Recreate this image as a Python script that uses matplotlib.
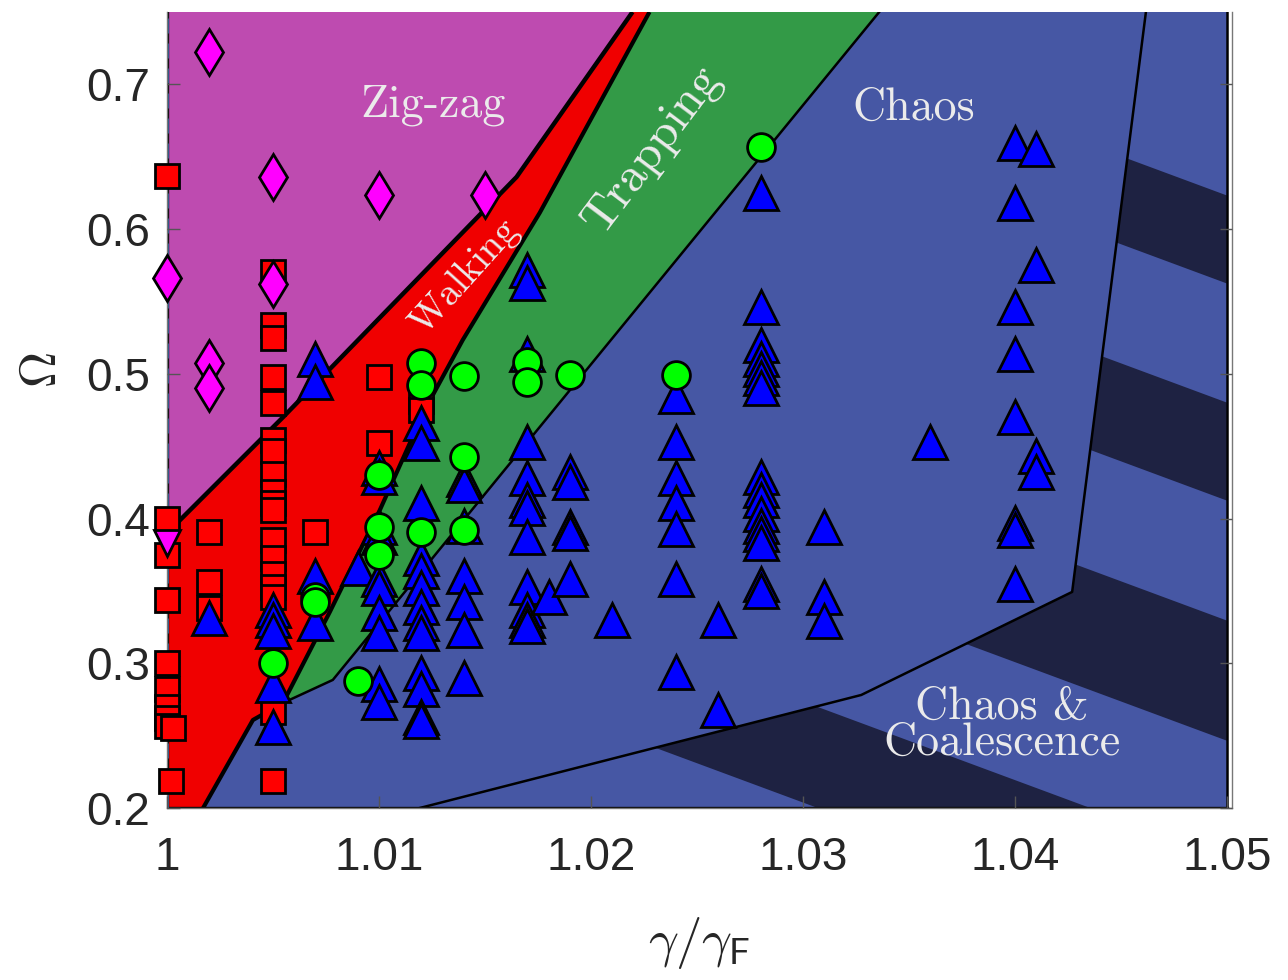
import matplotlib
matplotlib.use("Agg")

import matplotlib.pyplot as plt
from matplotlib.patches import Polygon

#
# Region boundaries (gamma/gamma_F, Omega)
#
zigzag_edge_x = [1.0, 1.00547, 1.01649, 1.02196]
zigzag_edge_y = [0.390, 0.470, 0.636, 0.750]

walking_edge_x = [1.0017, 1.00405, 1.00547, 1.00768, 1.01004, 1.01216, 1.01395, 1.01758, 1.02276]
walking_edge_y = [0.200, 0.2608, 0.2726, 0.3355, 0.4059, 0.4751, 0.5234, 0.6112, 0.750]

trapping_edge_x = [1.00547, 1.00782, 1.0336]
trapping_edge_y = [0.2726, 0.2885, 0.750]

coalescence_edge_x = [1.01192, 1.03275, 1.0427, 1.04618]
coalescence_edge_y = [0.200, 0.2781, 0.3493, 0.750]

# dark stripes inside the coalescence region: (upper, lower) intercept at x=1
stripe_top = [0.4365, 0.601, 0.7516, 0.8947]
stripe_bottom = [0.3667, 0.518, 0.6839, 0.8339]
stripe_slope = -5.43

#
# Measurements
#
square_x = [1.0, 1.0, 1.0, 1.0, 1.0, 1.0, 1.0, 1.0, 1.0, 1.0003, 1.0002,
            1.002, 1.002, 1.002,
            1.005, 1.005, 1.005, 1.005, 1.005, 1.005, 1.005, 1.005, 1.005,
            1.005, 1.005, 1.005, 1.005, 1.005, 1.005, 1.005, 1.005, 1.005,
            1.007, 1.010, 1.010, 1.012, 1.012]
square_y = [0.637, 0.400, 0.375, 0.344, 0.300, 0.282, 0.270, 0.262, 0.257, 0.255, 0.219,
            0.391, 0.356, 0.338,
            0.570, 0.534, 0.525, 0.498, 0.480, 0.454, 0.447, 0.431, 0.418,
            0.411, 0.406, 0.385, 0.373, 0.362, 0.353, 0.346, 0.266, 0.219,
            0.391, 0.498, 0.452, 0.481, 0.475]

diamond_x = [1.0, 1.002, 1.002, 1.002, 1.005, 1.005, 1.010, 1.015]
diamond_y = [0.566, 0.7225, 0.5075, 0.490, 0.636, 0.562, 0.6236, 0.6236]

down_x = [1.0]
down_y = [0.383]

circle_x = [1.005, 1.007, 1.007, 1.009, 1.010, 1.010, 1.010,
            1.012, 1.012, 1.012, 1.014, 1.014, 1.014,
            1.017, 1.017, 1.019, 1.024, 1.028]
circle_y = [0.300, 0.346, 0.342, 0.288, 0.430, 0.394, 0.375,
            0.5075, 0.492, 0.391, 0.4985, 0.4425, 0.392,
            0.508, 0.494, 0.499, 0.499, 0.657]

triangle_x = ([1.002]
              + [1.005] * 5
              + [1.007] * 4
              + [1.009]
              + [1.010] * 10
              + [1.012] * 13
              + [1.014] * 7
              + [1.017] * 12
              + [1.018]
              + [1.019] * 5
              + [1.021]
              + [1.024] * 7
              + [1.026] * 2
              + [1.028] * 16
              + [1.031] * 3
              + [1.036]
              + [1.040] * 8
              + [1.041] * 4)
triangle_y = ([0.331]
              + [0.337, 0.330, 0.322, 0.285, 0.256]
              + [0.510, 0.494, 0.360, 0.328]
              + [0.366]
              + [0.435, 0.429, 0.394, 0.387, 0.358, 0.352, 0.335, 0.321, 0.286, 0.273]
              + [0.466, 0.452, 0.411, 0.373, 0.364, 0.352, 0.339, 0.328, 0.321, 0.293, 0.282, 0.263, 0.260]
              + [0.427, 0.423, 0.395, 0.360, 0.342, 0.323, 0.290]
              + [0.572, 0.563, 0.514, 0.453, 0.428, 0.413, 0.407, 0.387, 0.353, 0.337, 0.330, 0.326]
              + [0.346]
              + [0.432, 0.425, 0.394, 0.390, 0.358]
              + [0.330]
              + [0.485, 0.453, 0.428, 0.411, 0.393, 0.358, 0.294]
              + [0.330, 0.268]
              + [0.625, 0.546, 0.520, 0.510, 0.503, 0.497, 0.490, 0.429, 0.420, 0.413,
                 0.403, 0.395, 0.389, 0.383, 0.355, 0.350]
              + [0.394, 0.346, 0.329]
              + [0.453]
              + [0.6595, 0.618, 0.546, 0.514, 0.470, 0.397, 0.392, 0.355]
              + [0.655, 0.575, 0.443, 0.432])

x_ticks = [1.0, 1.01, 1.02, 1.03, 1.04, 1.05]
x_tick_labels = ["1", "1.01", "1.02", "1.03", "1.04", "1.05"]
y_ticks = [0.2, 0.3, 0.4, 0.5, 0.6, 0.7]
y_tick_labels = ["0.2", "0.3", "0.4", "0.5", "0.6", "0.7"]

X_MIN, X_MAX = 1.0, 1.05
Y_MIN, Y_MAX = 0.2, 0.75

#
# Colours
#
PURPLE = "#BE4BB0"
RED = "#F00000"
GREEN = "#339A47"
BLUE_REGION = "#4657A4"
DARK = "#1E2242"
LABEL = "#EBEBEB"

plt.rcParams["mathtext.fontset"] = "cm"

fig = plt.figure(figsize=(12.88, 9.8), dpi=100)
ax = fig.add_axes([0.1297, 0.1755, 0.8268, 0.8123])

#
# Region polygons
#
zig = list(zip(zigzag_edge_x, zigzag_edge_y))
walk = list(zip(walking_edge_x, walking_edge_y))
trap = list(zip(trapping_edge_x, trapping_edge_y))
coal = list(zip(coalescence_edge_x, coalescence_edge_y))

purple_poly = [(X_MIN, Y_MAX)] + zig
red_poly = [(X_MIN, Y_MIN)] + walk + zig[::-1]
green_poly = walk[2:] + [trap[-1]] + trap[1:-1][::-1]
blue_poly = walk[:3] + trap[1:] + [(X_MAX, Y_MAX), (X_MAX, Y_MIN)]
coal_poly = coal + [(X_MAX, Y_MAX), (X_MAX, Y_MIN)]

for verts, colour in [
    (purple_poly, PURPLE),
    (red_poly, RED),
    (green_poly, GREEN),
    (blue_poly, BLUE_REGION),
]:
    ax.add_patch(Polygon(verts, closed=True, facecolor=colour, edgecolor="none", zorder=1))

coal_patch = Polygon(coal_poly, closed=True, facecolor=BLUE_REGION, edgecolor="none", zorder=1)
ax.add_patch(coal_patch)

#
# Stripes in the coalescence region
#
for top, bottom in zip(stripe_top, stripe_bottom):
    span = X_MAX - X_MIN
    stripe = Polygon(
        [
            (X_MIN, top),
            (X_MAX, top + stripe_slope * span),
            (X_MAX, bottom + stripe_slope * span),
            (X_MIN, bottom),
        ],
        closed=True,
        facecolor=DARK,
        edgecolor="none",
        zorder=1.1,
    )
    ax.add_patch(stripe)
    stripe.set_clip_path(coal_patch)

#
# Boundary lines
#
ax.plot(zigzag_edge_x, zigzag_edge_y, color="black", lw=3.2, zorder=1.5, solid_capstyle="butt")
ax.plot(walking_edge_x, walking_edge_y, color="black", lw=3.0, zorder=1.5, solid_capstyle="butt")
ax.plot(trapping_edge_x, trapping_edge_y, color="black", lw=1.8, zorder=1.5)
ax.plot(coalescence_edge_x, coalescence_edge_y, color="black", lw=1.8, zorder=1.5)
ax.plot([X_MAX, X_MAX], [Y_MIN, Y_MAX], color="black", lw=1.8, zorder=1.5)
ax.plot([X_MIN, X_MIN], [Y_MIN, Y_MAX], color="black", lw=2.4, zorder=1.6)
ax.plot([X_MIN, X_MIN], [Y_MIN, Y_MAX], color="#2F6FB8", lw=1.8, zorder=1.7,
        dashes=(6, 4))
ax.plot([X_MIN, X_MAX], [Y_MIN, Y_MIN], color="black", lw=2.4, zorder=1.6)

#
# Markers
#
marker_style = dict(linestyle="none", markeredgecolor="black", markeredgewidth=2.0,
                    clip_on=False)

ax.plot(square_x, square_y, marker="s", ms=17, mfc="#FF0000", zorder=3, **marker_style)
ax.plot(diamond_x, diamond_y, marker="d", ms=23, mfc="#FF00FF", zorder=3, **marker_style)
ax.plot(down_x, down_y, marker="v", ms=19, mfc="#FF00FF", zorder=3.2, **marker_style)
ax.plot(circle_x, circle_y, marker="o", ms=20, mfc="#00FF00", zorder=3.1, **marker_style)
ax.plot(triangle_x, triangle_y, marker="^", ms=25, mfc="#0000FF", zorder=3.05, **marker_style)

#
# Region labels
#
label_font = dict(family="cmr10", color=LABEL, ha="center", va="center", zorder=4)

ax.text(1.01254, 0.6858, "Zig-zag", fontsize=33, **label_font)
ax.text(1.01402, 0.567, "Walking", fontsize=28, rotation=48, **label_font)
ax.text(1.02286, 0.6545, "Trapping", fontsize=35, rotation=53, **label_font)
ax.text(1.03525, 0.6835, "Chaos", fontsize=33, **label_font)
ax.text(1.0394, 0.2575, "Chaos &\nCoalescence", fontsize=33, linespacing=0.82,
        multialignment="center", **label_font)

#
# Axes
#
ax.set_xlim(X_MIN, X_MAX + 0.00024)
ax.set_ylim(Y_MIN, Y_MAX)
ax.set_axisbelow(False)

ax.set_xticks(x_ticks)
ax.set_xticklabels(x_tick_labels, fontsize=33, family="Liberation Sans", color="#262626")
ax.set_yticks(y_ticks)
ax.set_yticklabels(y_tick_labels, fontsize=33, family="Liberation Sans", color="#262626")

ax.tick_params(axis="both", direction="in", length=9, width=1, color="#555555",
               right=True, top=False)
ax.tick_params(axis="x", pad=20)
ax.tick_params(axis="y", pad=12)

ax.spines["top"].set_visible(False)
for side in ["left", "right", "bottom"]:
    ax.spines[side].set_color("#777777")
    ax.spines[side].set_linewidth(1.0)

ax.set_ylabel(r"$\Omega$", fontsize=36, color="#262626")
ax.yaxis.set_label_coords(-0.095, 0.55)
ax.set_xlabel(r"$\gamma/\gamma_{\mathsf{F}}$", fontsize=38, color="#262626")
ax.xaxis.set_label_coords(0.5, -0.135)

fig.savefig("out.png", dpi=100)
plt.close(fig)
